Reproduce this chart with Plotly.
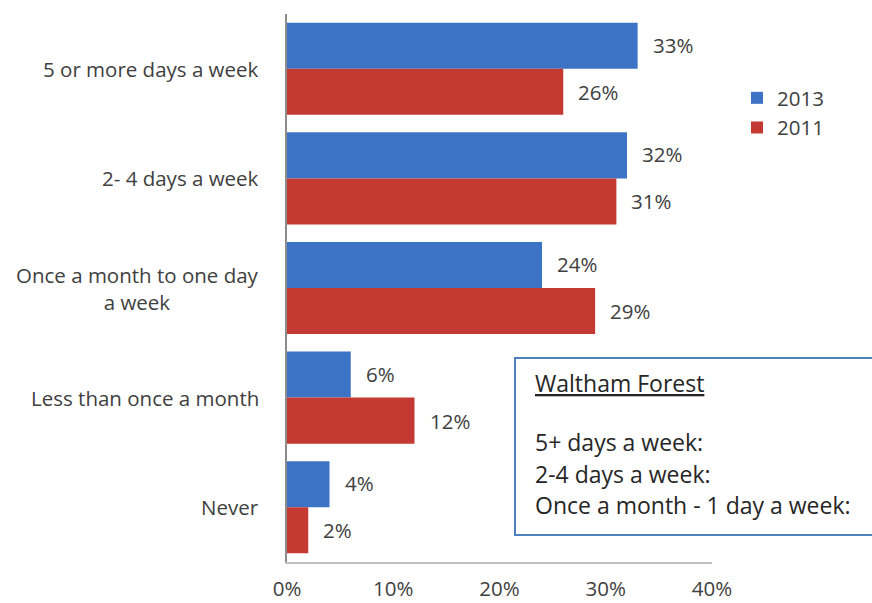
import plotly.graph_objects as go

# Survey categories (top to bottom) and the share of respondents in each year
categories = [
    "5 or more days a week",
    "2- 4 days a week",
    "Once a month to one day<br>a week",
    "Less than once a month",
    "Never",
]
share_2013 = [33, 32, 24, 6, 4]
share_2011 = [26, 31, 29, 12, 2]
x_ticks = [0, 10, 20, 30, 40]
box_title = "Waltham Forest"
box_lines = ["5+ days a week:", "2-4 days a week:", "Once a month - 1 day a week:"]

W, H = 872, 603
M_L, M_R, M_T, M_B = 287, 160, 14, 41
PW, PH = W - M_L - M_R, H - M_T - M_B

FONT = "'Open Sans', Lato, sans-serif"
TXT = "#404040"
BOX_TXT = "#262626"
BLUE = "#3C73C4"
RED = "#C43A33"


def px_x(px):
    return (px - M_L) / PW


def px_y(py):
    return 1 - (py - M_T) / PH


fig = go.Figure()
fig.add_trace(go.Bar(
    name="2013", y=categories, x=share_2013, orientation="h",
    marker=dict(color=BLUE, line=dict(width=0)),
))
fig.add_trace(go.Bar(
    name="2011", y=categories, x=share_2011, orientation="h",
    marker=dict(color=RED, line=dict(width=0)),
))

annotations = []
# value labels to the right of each bar
for vals, shift in ((share_2013, 24), (share_2011, -23)):
    for c, v in zip(categories, vals):
        annotations.append(dict(
            x=v, y=c, xref="x", yref="y", text=f"{v}%", showarrow=False,
            xanchor="left", xshift=13, yshift=shift,
            font=dict(family=FONT, size=20.5, color=TXT),
        ))
# category labels, centred as a block and right-aligned to the axis
for c in categories:
    annotations.append(dict(
        x=0, y=c, xref="paper", yref="y", text=c, showarrow=False,
        xanchor="right", xshift=-26, align="center",
        font=dict(family=FONT, size=20.5, color=TXT),
    ))

# text box contents
annotations.append(dict(
    x=px_x(533), y=px_y(383), xref="paper", yref="paper", showarrow=False,
    text=f"<span style='text-decoration:underline'>{box_title}</span>",
    xanchor="left", yanchor="middle", font=dict(family=FONT, size=23, color=BOX_TXT),
))
for i, line in enumerate(box_lines):
    annotations.append(dict(
        x=px_x(533), y=px_y(442 + 31.5 * i), xref="paper", yref="paper",
        showarrow=False, text=line, xanchor="left", yanchor="middle",
        font=dict(family=FONT, size=23, color=BOX_TXT),
    ))

fig.update_layout(
    template="none",
    width=W, height=H,
    margin=dict(l=M_L, r=M_R, t=M_T, b=M_B),
    paper_bgcolor="white", plot_bgcolor="white",
    barmode="group", bargap=0.16, bargroupgap=0.0,
    font=dict(family=FONT, size=20, color=TXT),
    showlegend=True,
    legend=dict(
        x=px_x(737), y=px_y(78), xanchor="left", yanchor="top",
        traceorder="normal",
        font=dict(family=FONT, size=20.5, color=TXT),
        itemwidth=30, bgcolor="rgba(0,0,0,0)",
    ),
    xaxis=dict(
        range=[0, 40], tickvals=x_ticks, ticktext=[f"{t}%" for t in x_ticks],
        showgrid=False, zeroline=False, showline=True, linecolor="#C0C0C0",
        linewidth=1.5, ticks="outside", ticklen=8, tickcolor="rgba(0,0,0,0)",
        tickfont=dict(family=FONT, size=20.5, color=TXT), automargin=False,
    ),
    yaxis=dict(
        autorange="reversed", showgrid=False, zeroline=False, showline=True,
        linecolor="#8C8C8C", linewidth=1.5, showticklabels=False, ticks="",
        automargin=False,
    ),
    shapes=[dict(
        type="rect", xref="paper", yref="paper",
        x0=px_x(515), x1=px_x(890), y0=px_y(535), y1=px_y(358),
        line=dict(color="#4F81BD", width=2), fillcolor="white", layer="above",
    )],
    annotations=annotations,
)

fig.write_html("out.html")
